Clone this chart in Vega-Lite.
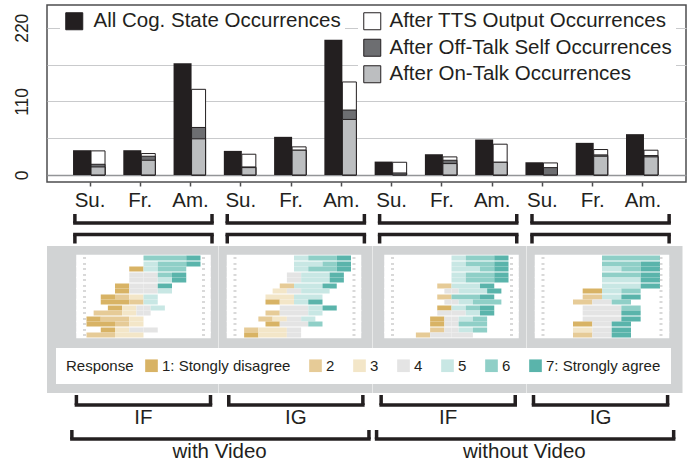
{
  "$schema": "https://vega.github.io/schema/vega-lite/v6.json",
  "background": "white",
  "padding": {"left": 12, "top": 4, "right": 0, "bottom": 0},
  "config": {"font": "Liberation Sans", "view": {"stroke": null}, "concat": {"spacing": 0}},
  "datasets": {
    "bars": [
      {"cat":"vIF-Su","s":"All Cog. State Occurrences","v":37},{"cat":"vIF-Su","s":"After TTS Output Occurrences","v":36},{"cat":"vIF-Su","s":"After Off-Talk Self Occurrences","v":16},{"cat":"vIF-Su","s":"After On-Talk Occurrences","v":12},
      {"cat":"vIF-Fr","s":"All Cog. State Occurrences","v":37},{"cat":"vIF-Fr","s":"After TTS Output Occurrences","v":32},{"cat":"vIF-Fr","s":"After Off-Talk Self Occurrences","v":28},{"cat":"vIF-Fr","s":"After On-Talk Occurrences","v":22},
      {"cat":"vIF-Am","s":"All Cog. State Occurrences","v":167},{"cat":"vIF-Am","s":"After TTS Output Occurrences","v":128},{"cat":"vIF-Am","s":"After Off-Talk Self Occurrences","v":71},{"cat":"vIF-Am","s":"After On-Talk Occurrences","v":54},
      {"cat":"vIG-Su","s":"All Cog. State Occurrences","v":36},{"cat":"vIG-Su","s":"After TTS Output Occurrences","v":31},{"cat":"vIG-Su","s":"After Off-Talk Self Occurrences","v":12},{"cat":"vIG-Su","s":"After On-Talk Occurrences","v":11},
      {"cat":"vIG-Fr","s":"All Cog. State Occurrences","v":57},{"cat":"vIG-Fr","s":"After TTS Output Occurrences","v":42},{"cat":"vIG-Fr","s":"After Off-Talk Self Occurrences","v":37},{"cat":"vIG-Fr","s":"After On-Talk Occurrences","v":37},
      {"cat":"vIG-Am","s":"All Cog. State Occurrences","v":202},{"cat":"vIG-Am","s":"After TTS Output Occurrences","v":139},{"cat":"vIG-Am","s":"After Off-Talk Self Occurrences","v":97},{"cat":"vIG-Am","s":"After On-Talk Occurrences","v":83},
      {"cat":"nIF-Su","s":"All Cog. State Occurrences","v":20},{"cat":"nIF-Su","s":"After TTS Output Occurrences","v":19},{"cat":"nIF-Su","s":"After Off-Talk Self Occurrences","v":3},
      {"cat":"nIF-Fr","s":"All Cog. State Occurrences","v":31},{"cat":"nIF-Fr","s":"After TTS Output Occurrences","v":27},{"cat":"nIF-Fr","s":"After Off-Talk Self Occurrences","v":22},{"cat":"nIF-Fr","s":"After On-Talk Occurrences","v":17},
      {"cat":"nIF-Am","s":"All Cog. State Occurrences","v":53},{"cat":"nIF-Am","s":"After TTS Output Occurrences","v":46},{"cat":"nIF-Am","s":"After Off-Talk Self Occurrences","v":19},{"cat":"nIF-Am","s":"After On-Talk Occurrences","v":19},
      {"cat":"nIG-Su","s":"All Cog. State Occurrences","v":19},{"cat":"nIG-Su","s":"After TTS Output Occurrences","v":18},{"cat":"nIG-Su","s":"After Off-Talk Self Occurrences","v":11},
      {"cat":"nIG-Fr","s":"All Cog. State Occurrences","v":48},{"cat":"nIG-Fr","s":"After TTS Output Occurrences","v":38},{"cat":"nIG-Fr","s":"After Off-Talk Self Occurrences","v":30},{"cat":"nIG-Fr","s":"After On-Talk Occurrences","v":28},
      {"cat":"nIG-Am","s":"All Cog. State Occurrences","v":61},{"cat":"nIG-Am","s":"After TTS Output Occurrences","v":37},{"cat":"nIG-Am","s":"After Off-Talk Self Occurrences","v":29},{"cat":"nIG-Am","s":"After On-Talk Occurrences","v":27}
    ],
    "likert": [
      {"p":"vIF","q":0,"c":1,"l":6,"v":3},{"p":"vIF","q":0,"c":1,"l":7,"v":1},
      {"p":"vIF","q":1,"c":0,"l":5,"v":1},{"p":"vIF","q":1,"c":0,"l":6,"v":2},{"p":"vIF","q":1,"c":0,"l":7,"v":1},
      {"p":"vIF","q":1,"c":1,"l":1,"v":-1},{"p":"vIF","q":1,"c":1,"l":5,"v":1},{"p":"vIF","q":1,"c":1,"l":6,"v":2},
      {"p":"vIF","q":2,"c":0,"l":4,"v":-1},{"p":"vIF","q":2,"c":0,"l":4,"v":1},{"p":"vIF","q":2,"c":0,"l":6,"v":1},{"p":"vIF","q":2,"c":0,"l":7,"v":1},
      {"p":"vIF","q":2,"c":1,"l":4,"v":-1},{"p":"vIF","q":2,"c":1,"l":4,"v":1},{"p":"vIF","q":2,"c":1,"l":5,"v":1},{"p":"vIF","q":2,"c":1,"l":7,"v":1},
      {"p":"vIF","q":3,"c":0,"l":1,"v":-1},{"p":"vIF","q":3,"c":0,"l":4,"v":-1},{"p":"vIF","q":3,"c":0,"l":4,"v":1},{"p":"vIF","q":3,"c":0,"l":7,"v":1},
      {"p":"vIF","q":3,"c":1,"l":1,"v":-1},{"p":"vIF","q":3,"c":1,"l":4,"v":-1},{"p":"vIF","q":3,"c":1,"l":4,"v":1},{"p":"vIF","q":3,"c":1,"l":5,"v":1},
      {"p":"vIF","q":4,"c":0,"l":1,"v":-1},{"p":"vIF","q":4,"c":0,"l":2,"v":-1},{"p":"vIF","q":4,"c":0,"l":3,"v":-1},{"p":"vIF","q":4,"c":0,"l":5,"v":1},
      {"p":"vIF","q":4,"c":1,"l":1,"v":-2},{"p":"vIF","q":4,"c":1,"l":2,"v":-1},{"p":"vIF","q":4,"c":1,"l":5,"v":1},
      {"p":"vIF","q":5,"c":0,"l":1,"v":-1},{"p":"vIF","q":5,"c":0,"l":3,"v":-1},{"p":"vIF","q":5,"c":0,"l":4,"v":-0.5},{"p":"vIF","q":5,"c":0,"l":4,"v":0.5},{"p":"vIF","q":5,"c":0,"l":5,"v":1},
      {"p":"vIF","q":5,"c":1,"l":2,"v":-2},{"p":"vIF","q":5,"c":1,"l":3,"v":-1},{"p":"vIF","q":5,"c":1,"l":4,"v":-0.5},{"p":"vIF","q":5,"c":1,"l":4,"v":0.5},
      {"p":"vIF","q":6,"c":0,"l":1,"v":-1},{"p":"vIF","q":6,"c":0,"l":2,"v":-2},{"p":"vIF","q":6,"c":0,"l":3,"v":-1},
      {"p":"vIF","q":6,"c":1,"l":1,"v":-2},{"p":"vIF","q":6,"c":1,"l":2,"v":-1},{"p":"vIF","q":6,"c":1,"l":3,"v":-1},
      {"p":"vIF","q":7,"c":0,"l":1,"v":-1},{"p":"vIF","q":7,"c":0,"l":3,"v":-1},{"p":"vIF","q":7,"c":0,"l":4,"v":-1},{"p":"vIF","q":7,"c":0,"l":4,"v":1},
      {"p":"vIF","q":7,"c":1,"l":2,"v":-2},{"p":"vIF","q":7,"c":1,"l":3,"v":-2},

      {"p":"vIG","q":0,"c":1,"l":5,"v":1},{"p":"vIG","q":0,"c":1,"l":6,"v":2},{"p":"vIG","q":0,"c":1,"l":7,"v":1},
      {"p":"vIG","q":1,"c":0,"l":5,"v":2},{"p":"vIG","q":1,"c":0,"l":6,"v":1},{"p":"vIG","q":1,"c":0,"l":7,"v":1},
      {"p":"vIG","q":1,"c":1,"l":5,"v":1},{"p":"vIG","q":1,"c":1,"l":6,"v":2},{"p":"vIG","q":1,"c":1,"l":7,"v":1},
      {"p":"vIG","q":2,"c":0,"l":4,"v":-0.5},{"p":"vIG","q":2,"c":0,"l":4,"v":0.5},{"p":"vIG","q":2,"c":0,"l":5,"v":2},{"p":"vIG","q":2,"c":0,"l":7,"v":1},
      {"p":"vIG","q":2,"c":1,"l":4,"v":-0.5},{"p":"vIG","q":2,"c":1,"l":4,"v":0.5},{"p":"vIG","q":2,"c":1,"l":5,"v":2},{"p":"vIG","q":2,"c":1,"l":7,"v":1},
      {"p":"vIG","q":3,"c":0,"l":2,"v":-1},{"p":"vIG","q":3,"c":0,"l":5,"v":2},{"p":"vIG","q":3,"c":0,"l":7,"v":1},
      {"p":"vIG","q":3,"c":1,"l":3,"v":-1},{"p":"vIG","q":3,"c":1,"l":4,"v":-0.5},{"p":"vIG","q":3,"c":1,"l":4,"v":0.5},{"p":"vIG","q":3,"c":1,"l":5,"v":2},
      {"p":"vIG","q":4,"c":0,"l":3,"v":-2},{"p":"vIG","q":4,"c":0,"l":5,"v":2},
      {"p":"vIG","q":4,"c":1,"l":1,"v":-1},{"p":"vIG","q":4,"c":1,"l":3,"v":-1},{"p":"vIG","q":4,"c":1,"l":5,"v":1},{"p":"vIG","q":4,"c":1,"l":7,"v":1},
      {"p":"vIG","q":5,"c":0,"l":4,"v":-1},{"p":"vIG","q":5,"c":0,"l":4,"v":1},{"p":"vIG","q":5,"c":0,"l":5,"v":1},{"p":"vIG","q":5,"c":0,"l":7,"v":1},
      {"p":"vIG","q":5,"c":1,"l":2,"v":-1},{"p":"vIG","q":5,"c":1,"l":4,"v":-1},{"p":"vIG","q":5,"c":1,"l":4,"v":1},{"p":"vIG","q":5,"c":1,"l":5,"v":1},
      {"p":"vIG","q":6,"c":0,"l":2,"v":-1},{"p":"vIG","q":6,"c":0,"l":3,"v":-1},{"p":"vIG","q":6,"c":0,"l":4,"v":-0.5},{"p":"vIG","q":6,"c":0,"l":4,"v":0.5},{"p":"vIG","q":6,"c":0,"l":5,"v":1},
      {"p":"vIG","q":6,"c":1,"l":1,"v":-1},{"p":"vIG","q":6,"c":1,"l":4,"v":-1},{"p":"vIG","q":6,"c":1,"l":4,"v":1},{"p":"vIG","q":6,"c":1,"l":6,"v":1},
      {"p":"vIG","q":7,"c":0,"l":2,"v":-1},{"p":"vIG","q":7,"c":0,"l":3,"v":-2},{"p":"vIG","q":7,"c":0,"l":4,"v":-0.5},{"p":"vIG","q":7,"c":0,"l":4,"v":0.5},
      {"p":"vIG","q":7,"c":1,"l":1,"v":-1},{"p":"vIG","q":7,"c":1,"l":3,"v":-2},{"p":"vIG","q":7,"c":1,"l":4,"v":-0.5},{"p":"vIG","q":7,"c":1,"l":4,"v":0.5},

      {"p":"nIF","q":0,"c":1,"l":5,"v":1},{"p":"nIF","q":0,"c":1,"l":6,"v":2},{"p":"nIF","q":0,"c":1,"l":7,"v":1},
      {"p":"nIF","q":1,"c":0,"l":5,"v":1},{"p":"nIF","q":1,"c":0,"l":6,"v":2},{"p":"nIF","q":1,"c":0,"l":7,"v":1},
      {"p":"nIF","q":1,"c":1,"l":5,"v":2},{"p":"nIF","q":1,"c":1,"l":6,"v":1},{"p":"nIF","q":1,"c":1,"l":7,"v":1},
      {"p":"nIF","q":2,"c":0,"l":5,"v":1},{"p":"nIF","q":2,"c":0,"l":6,"v":2},{"p":"nIF","q":2,"c":0,"l":7,"v":1},
      {"p":"nIF","q":2,"c":1,"l":5,"v":1},{"p":"nIF","q":2,"c":1,"l":6,"v":2},{"p":"nIF","q":2,"c":1,"l":7,"v":1},
      {"p":"nIF","q":3,"c":0,"l":2,"v":-1},{"p":"nIF","q":3,"c":0,"l":5,"v":2},{"p":"nIF","q":3,"c":0,"l":7,"v":1},
      {"p":"nIF","q":3,"c":1,"l":4,"v":-0.5},{"p":"nIF","q":3,"c":1,"l":4,"v":0.5},{"p":"nIF","q":3,"c":1,"l":5,"v":2},{"p":"nIF","q":3,"c":1,"l":7,"v":1},
      {"p":"nIF","q":4,"c":0,"l":2,"v":-1},{"p":"nIF","q":4,"c":0,"l":6,"v":2},{"p":"nIF","q":4,"c":0,"l":7,"v":1},
      {"p":"nIF","q":4,"c":1,"l":4,"v":-0.5},{"p":"nIF","q":4,"c":1,"l":4,"v":0.5},{"p":"nIF","q":4,"c":1,"l":5,"v":1},{"p":"nIF","q":4,"c":1,"l":6,"v":2},
      {"p":"nIF","q":5,"c":0,"l":1,"v":-1},{"p":"nIF","q":5,"c":0,"l":5,"v":1},{"p":"nIF","q":5,"c":0,"l":6,"v":1},{"p":"nIF","q":5,"c":0,"l":7,"v":1},
      {"p":"nIF","q":5,"c":1,"l":4,"v":-1},{"p":"nIF","q":5,"c":1,"l":4,"v":1},{"p":"nIF","q":5,"c":1,"l":5,"v":1},{"p":"nIF","q":5,"c":1,"l":7,"v":1},
      {"p":"nIF","q":6,"c":0,"l":1,"v":-1},{"p":"nIF","q":6,"c":0,"l":4,"v":-0.5},{"p":"nIF","q":6,"c":0,"l":4,"v":0.5},{"p":"nIF","q":6,"c":0,"l":5,"v":1},{"p":"nIF","q":6,"c":0,"l":6,"v":1},
      {"p":"nIF","q":6,"c":1,"l":1,"v":-1},{"p":"nIF","q":6,"c":1,"l":4,"v":-0.5},{"p":"nIF","q":6,"c":1,"l":4,"v":0.5},{"p":"nIF","q":6,"c":1,"l":6,"v":2},
      {"p":"nIF","q":7,"c":0,"l":2,"v":-1},{"p":"nIF","q":7,"c":0,"l":4,"v":-0.5},{"p":"nIF","q":7,"c":0,"l":4,"v":0.5},{"p":"nIF","q":7,"c":0,"l":5,"v":1},{"p":"nIF","q":7,"c":0,"l":6,"v":1},
      {"p":"nIF","q":7,"c":1,"l":2,"v":-1},{"p":"nIF","q":7,"c":1,"l":4,"v":-1.5},{"p":"nIF","q":7,"c":1,"l":4,"v":1.5},

      {"p":"nIG","q":0,"c":1,"l":6,"v":3},
      {"p":"nIG","q":1,"c":0,"l":6,"v":2},{"p":"nIG","q":1,"c":0,"l":7,"v":1},
      {"p":"nIG","q":1,"c":1,"l":5,"v":1},{"p":"nIG","q":1,"c":1,"l":6,"v":1},{"p":"nIG","q":1,"c":1,"l":7,"v":1},
      {"p":"nIG","q":2,"c":0,"l":6,"v":2},{"p":"nIG","q":2,"c":0,"l":7,"v":1},
      {"p":"nIG","q":2,"c":1,"l":5,"v":2},{"p":"nIG","q":2,"c":1,"l":7,"v":1},
      {"p":"nIG","q":3,"c":0,"l":5,"v":2},{"p":"nIG","q":3,"c":0,"l":7,"v":1},
      {"p":"nIG","q":3,"c":1,"l":1,"v":-1},{"p":"nIG","q":3,"c":1,"l":5,"v":1},{"p":"nIG","q":3,"c":1,"l":6,"v":1},
      {"p":"nIG","q":4,"c":0,"l":2,"v":-1},{"p":"nIG","q":4,"c":0,"l":5,"v":1},{"p":"nIG","q":4,"c":0,"l":7,"v":1},
      {"p":"nIG","q":4,"c":1,"l":2,"v":-1},{"p":"nIG","q":4,"c":1,"l":4,"v":-0.5},{"p":"nIG","q":4,"c":1,"l":4,"v":0.5},{"p":"nIG","q":4,"c":1,"l":6,"v":1},
      {"p":"nIG","q":5,"c":0,"l":4,"v":-1},{"p":"nIG","q":5,"c":0,"l":4,"v":1},{"p":"nIG","q":5,"c":0,"l":6,"v":1},
      {"p":"nIG","q":5,"c":1,"l":4,"v":-1},{"p":"nIG","q":5,"c":1,"l":4,"v":1},{"p":"nIG","q":5,"c":1,"l":7,"v":1},
      {"p":"nIG","q":6,"c":0,"l":4,"v":-1},{"p":"nIG","q":6,"c":0,"l":4,"v":1},{"p":"nIG","q":6,"c":0,"l":7,"v":1},
      {"p":"nIG","q":6,"c":1,"l":1,"v":-1},{"p":"nIG","q":6,"c":1,"l":4,"v":-0.5},{"p":"nIG","q":6,"c":1,"l":4,"v":0.5},{"p":"nIG","q":6,"c":1,"l":7,"v":1},
      {"p":"nIG","q":7,"c":0,"l":3,"v":-1},{"p":"nIG","q":7,"c":0,"l":4,"v":-0.5},{"p":"nIG","q":7,"c":0,"l":4,"v":0.5},{"p":"nIG","q":7,"c":0,"l":7,"v":1},
      {"p":"nIG","q":7,"c":1,"l":2,"v":-1},{"p":"nIG","q":7,"c":1,"l":4,"v":-0.5},{"p":"nIG","q":7,"c":1,"l":4,"v":0.5},{"p":"nIG","q":7,"c":1,"l":7,"v":1}
    ],
    "groups": [{"g":"vIF"},{"g":"vIG"},{"g":"nIF"},{"g":"nIG"}],
    "video": [{"vid":"with Video"},{"vid":"without Video"}]
  },
  "resolve": {"scale": {"color": "independent", "fill": "independent"}},
  "spacing": 0,
  "vconcat": [
    {
      "width": 639, "height": 177,
      "view": {"stroke": "#4d4d4f", "strokeWidth": 1.5},
      "data": {"name": "bars"},
      "layer": [
        {
          "transform": [{"filter": "datum.s === 'All Cog. State Occurrences'"}],
          "mark": {"type": "bar", "width": 18},
          "encoding": {
            "x": {"field": "cat", "type": "nominal", "sort": null, "title": null,
              "scale": {"domain": ["vIF-Su","vIF-Fr","vIF-Am","vIG-Su","vIG-Fr","vIG-Am","nIF-Su","nIF-Fr","nIF-Am","nIG-Su","nIG-Fr","nIG-Am"], "paddingInner": 0, "paddingOuter": 0.356},
              "axis": {"labelExpr": "slice(datum.value, -2) + '.'", "tickSize": 4, "tickColor": "#4d4d4f", "tickWidth": 1.5, "domain": false, "labelFontSize": 20.5, "labelColor": "#231f20", "labelPadding": 4, "labelAngle": 0}},
            "xOffset": {"datum": "All", "scale": {"domain": ["All", "After"], "paddingInner": 0, "paddingOuter": 0.571}},
            "y": {"field": "v", "type": "quantitative", "stack": null, "title": null,
              "scale": {"domain": [-10.5, 254], "nice": false},
              "axis": {"values": [0, 55, 110, 165, 220], "labelExpr": "datum.value % 110 === 0 ? datum.label : ''", "ticks": false, "domain": false, "grid": true,
                "gridColor": {"condition": {"test": "datum.value === 0", "value": "#939598"}, "value": "#c9cacc"},
                "gridWidth": {"condition": {"test": "datum.value === 0", "value": 1.5}, "value": 1},
                "labelAngle": -90, "labelAlign": "center", "labelBaseline": "bottom", "labelFontSize": 17.5, "labelColor": "#231f20", "labelPadding": 16}},
            "fill": {"field": "s", "type": "nominal",
              "scale": {"domain": ["All Cog. State Occurrences"], "range": ["#231f20"]},
              "legend": {"orient": "none", "legendX": 13, "legendY": 2, "title": null, "symbolType": "square", "symbolSize": 289, "symbolStrokeColor": "#231f20", "symbolStrokeWidth": 1, "labelFontSize": 20.5, "labelColor": "#231f20", "labelOffset": 9, "labelLimit": 400, "fillColor": "white", "padding": 4}}
          }
        },
        {
          "transform": [{"filter": "datum.s !== 'All Cog. State Occurrences'"}],
          "mark": {"type": "bar", "width": 14, "stroke": "#231f20", "strokeWidth": 1},
          "encoding": {
            "x": {"field": "cat", "type": "nominal", "sort": null, "title": null},
            "xOffset": {"datum": "After"},
            "y": {"field": "v", "type": "quantitative", "stack": null, "title": null},
            "fill": {"field": "s", "type": "nominal",
              "scale": {"domain": ["After TTS Output Occurrences", "After Off-Talk Self Occurrences", "After On-Talk Occurrences"], "range": ["#ffffff", "#6d6e71", "#bcbec0"]},
              "legend": {"orient": "none", "legendX": 311, "legendY": 2, "title": null, "symbolType": "square", "symbolSize": 289, "symbolStrokeColor": "#231f20", "symbolStrokeWidth": 1, "labelFontSize": 20.5, "labelColor": "#231f20", "labelOffset": 7, "labelLimit": 400, "rowPadding": 4.5, "fillColor": "white", "padding": 4}}
          }
        }
      ],
      "resolve": {"scale": {"fill": "independent"}}
    },
    {
      "spacing": 5.5,
      "vconcat": [
        {
          "width": 650, "height": 9,
          "data": {"name": "groups"},
          "layer": [
            {"mark": {"type": "rule", "color": "#231f20", "strokeWidth": 3.5},
             "encoding": {"x": {"field": "g", "type": "nominal", "sort": null, "title": null, "bandPosition": 0.05, "scale": {"domain": ["vIF","vIG","nIF","nIG"], "paddingInner": 0, "paddingOuter": 0.133}, "axis": null}}},
            {"mark": {"type": "rule", "color": "#231f20", "strokeWidth": 3.5},
             "encoding": {"x": {"field": "g", "type": "nominal", "title": null, "bandPosition": 0.95}}},
            {"mark": {"type": "rule", "color": "#231f20", "strokeWidth": 3.5, "strokeCap": "square"},
             "encoding": {"x": {"field": "g", "type": "nominal", "title": null, "bandPosition": 0.05}, "x2": {"field": "g", "bandPosition": 0.95}, "y": {"value": "height"}}}
          ]
        },
        {
          "width": 650, "height": 9,
          "data": {"name": "groups"},
          "layer": [
            {"mark": {"type": "rule", "color": "#231f20", "strokeWidth": 3.5},
             "encoding": {"x": {"field": "g", "type": "nominal", "sort": null, "title": null, "bandPosition": 0.05, "scale": {"domain": ["vIF","vIG","nIF","nIG"], "paddingInner": 0, "paddingOuter": 0.133}, "axis": null}}},
            {"mark": {"type": "rule", "color": "#231f20", "strokeWidth": 3.5},
             "encoding": {"x": {"field": "g", "type": "nominal", "title": null, "bandPosition": 0.95}}},
            {"mark": {"type": "rule", "color": "#231f20", "strokeWidth": 3.5, "strokeCap": "square"},
             "encoding": {"x": {"field": "g", "type": "nominal", "title": null, "bandPosition": 0.05}, "x2": {"field": "g", "bandPosition": 0.95}, "y": {"value": 0}}}
          ]
        }
      ]
    },
    {
      "hconcat": [
        {
          "width": 171.5, "height": 147,
          "view": {"fill": "#d1d3d4", "stroke": null},
          "data": {"name": "likert"},
          "transform": [{"filter": "datum.p === 'vIF'"}],
          "layer": [
            {"transform": [{"aggregate": [{"op": "count", "as": "n"}], "groupby": ["q", "c"]}],
             "mark": {"type": "bar", "fill": "white", "stroke": "white", "strokeWidth": 1.5},
             "encoding": {
               "x": {"datum": -4.667, "type": "quantitative", "scale": {"domain": [-6.772, 5.263], "nice": false, "zero": false}, "axis": null},
               "x2": {"datum": 4.667},
               "y": {"field": "q", "type": "ordinal", "scale": {"range": [4, 92], "paddingInner": 0.09, "paddingOuter": 0.045}, "axis": null},
               "yOffset": {"field": "c", "type": "ordinal", "scale": {"domain": [0, 1], "paddingInner": 0, "paddingOuter": 0}}}},
            {"transform": [{"calculate": "abs(datum.l - 4)", "as": "d"}],
             "mark": {"type": "bar"},
             "encoding": {
               "x": {"field": "v", "type": "quantitative", "stack": "zero", "axis": null},
               "y": {"field": "q", "type": "ordinal", "axis": null},
               "yOffset": {"field": "c", "type": "ordinal"},
               "order": {"field": "d", "type": "quantitative"},
               "color": {"field": "l", "type": "ordinal", "scale": {"domain": [1,2,3,4,5,6,7], "range": ["#d8b365","#e6cb97","#f3e6c8","#e4e4e4","#c8e7e4","#8fcfc7","#5ab4ab"]},
                 "legend": {"orient": "none", "legendX": 9, "legendY": 102, "direction": "horizontal", "title": "Response", "titleOrient": "left", "titleFontSize": 15, "titleFontWeight": "normal", "titleColor": "#231f20", "titlePadding": 10, "labelFontSize": 15, "labelColor": "#231f20", "symbolType": "square", "symbolSize": 160, "symbolStrokeWidth": 0, "fillColor": "white", "padding": 10, "columnPadding": 17, "labelOffset": 3, "labelLimit": 300,
                   "labelExpr": "datum.value == 1 ? '1: Stongly disagree' : (datum.value == 7 ? '7: Strongly agree' : datum.label)"}}}},
            {"transform": [{"aggregate": [{"op": "count", "as": "n"}], "groupby": ["q"]}],
             "mark": {"type": "rule", "color": "#58595b", "strokeWidth": 1},
             "encoding": {"x": {"datum": 0, "type": "quantitative"}, "y": {"field": "q", "type": "ordinal"}}},
            {"transform": [{"aggregate": [{"op": "count", "as": "n"}], "groupby": ["q", "c"]}],
             "mark": {"type": "rule", "color": "#b3b3b3", "strokeWidth": 1},
             "encoding": {"x": {"datum": -4.246, "type": "quantitative"}, "x2": {"datum": -4.035}, "y": {"field": "q", "type": "ordinal"}, "yOffset": {"field": "c", "type": "ordinal"}}},
            {"transform": [{"aggregate": [{"op": "count", "as": "n"}], "groupby": ["q", "c"]}],
             "mark": {"type": "rule", "color": "#b3b3b3", "strokeWidth": 1},
             "encoding": {"x": {"datum": 4.105, "type": "quantitative"}, "x2": {"datum": 4.316}, "y": {"field": "q", "type": "ordinal"}, "yOffset": {"field": "c", "type": "ordinal"}}}
          ]
        },
        {
          "width": 153.5, "height": 147,
          "view": {"fill": "#d1d3d4", "stroke": null},
          "data": {"name": "likert"},
          "transform": [{"filter": "datum.p === 'vIG'"}],
          "layer": [
            {"transform": [{"aggregate": [{"op": "count", "as": "n"}], "groupby": ["q", "c"]}],
             "mark": {"type": "bar", "fill": "white", "stroke": "white", "strokeWidth": 1.5},
             "encoding": {
               "x": {"datum": -4.667, "type": "quantitative", "scale": {"domain": [-5.263, 5.509], "nice": false, "zero": false}, "axis": null},
               "x2": {"datum": 4.667},
               "y": {"field": "q", "type": "ordinal", "scale": {"range": [4, 92], "paddingInner": 0.09, "paddingOuter": 0.045}, "axis": null},
               "yOffset": {"field": "c", "type": "ordinal", "scale": {"domain": [0, 1], "paddingInner": 0, "paddingOuter": 0}}}},
            {"transform": [{"calculate": "abs(datum.l - 4)", "as": "d"}],
             "mark": {"type": "bar"},
             "encoding": {
               "x": {"field": "v", "type": "quantitative", "stack": "zero", "axis": null},
               "y": {"field": "q", "type": "ordinal", "axis": null},
               "yOffset": {"field": "c", "type": "ordinal"},
               "order": {"field": "d", "type": "quantitative"},
               "color": {"field": "l", "type": "ordinal", "scale": {"domain": [1,2,3,4,5,6,7], "range": ["#d8b365","#e6cb97","#f3e6c8","#e4e4e4","#c8e7e4","#8fcfc7","#5ab4ab"]},
                 "legend": {"orient": "none", "legendX": 9, "legendY": 102, "direction": "horizontal", "title": "Response", "titleOrient": "left", "titleFontSize": 15, "titleFontWeight": "normal", "titleColor": "#231f20", "titlePadding": 10, "labelFontSize": 15, "labelColor": "#231f20", "symbolType": "square", "symbolSize": 160, "symbolStrokeWidth": 0, "fillColor": "white", "padding": 10, "columnPadding": 17, "labelOffset": 3, "labelLimit": 300,
                   "labelExpr": "datum.value == 1 ? '1: Stongly disagree' : (datum.value == 7 ? '7: Strongly agree' : datum.label)"}}}},
            {"transform": [{"aggregate": [{"op": "count", "as": "n"}], "groupby": ["q"]}],
             "mark": {"type": "rule", "color": "#58595b", "strokeWidth": 1},
             "encoding": {"x": {"datum": 0, "type": "quantitative"}, "y": {"field": "q", "type": "ordinal"}}},
            {"transform": [{"aggregate": [{"op": "count", "as": "n"}], "groupby": ["q", "c"]}],
             "mark": {"type": "rule", "color": "#b3b3b3", "strokeWidth": 1},
             "encoding": {"x": {"datum": -4.246, "type": "quantitative"}, "x2": {"datum": -4.035}, "y": {"field": "q", "type": "ordinal"}, "yOffset": {"field": "c", "type": "ordinal"}}},
            {"transform": [{"aggregate": [{"op": "count", "as": "n"}], "groupby": ["q", "c"]}],
             "mark": {"type": "rule", "color": "#b3b3b3", "strokeWidth": 1},
             "encoding": {"x": {"datum": 4.105, "type": "quantitative"}, "x2": {"datum": 4.316}, "y": {"field": "q", "type": "ordinal"}, "yOffset": {"field": "c", "type": "ordinal"}}}
          ]
        },
        {
          "width": 153.5, "height": 147,
          "view": {"fill": "#d1d3d4", "stroke": null},
          "data": {"name": "likert"},
          "transform": [{"filter": "datum.p === 'nIF'"}],
          "layer": [
            {"transform": [{"aggregate": [{"op": "count", "as": "n"}], "groupby": ["q", "c"]}],
             "mark": {"type": "bar", "fill": "white", "stroke": "white", "strokeWidth": 1.5},
             "encoding": {
               "x": {"datum": -4.667, "type": "quantitative", "scale": {"domain": [-5.509, 5.263], "nice": false, "zero": false}, "axis": null},
               "x2": {"datum": 4.667},
               "y": {"field": "q", "type": "ordinal", "scale": {"range": [4, 92], "paddingInner": 0.09, "paddingOuter": 0.045}, "axis": null},
               "yOffset": {"field": "c", "type": "ordinal", "scale": {"domain": [0, 1], "paddingInner": 0, "paddingOuter": 0}}}},
            {"transform": [{"calculate": "abs(datum.l - 4)", "as": "d"}],
             "mark": {"type": "bar"},
             "encoding": {
               "x": {"field": "v", "type": "quantitative", "stack": "zero", "axis": null},
               "y": {"field": "q", "type": "ordinal", "axis": null},
               "yOffset": {"field": "c", "type": "ordinal"},
               "order": {"field": "d", "type": "quantitative"},
               "color": {"field": "l", "type": "ordinal", "scale": {"domain": [1,2,3,4,5,6,7], "range": ["#d8b365","#e6cb97","#f3e6c8","#e4e4e4","#c8e7e4","#8fcfc7","#5ab4ab"]},
                 "legend": {"orient": "none", "legendX": 9, "legendY": 102, "direction": "horizontal", "title": "Response", "titleOrient": "left", "titleFontSize": 15, "titleFontWeight": "normal", "titleColor": "#231f20", "titlePadding": 10, "labelFontSize": 15, "labelColor": "#231f20", "symbolType": "square", "symbolSize": 160, "symbolStrokeWidth": 0, "fillColor": "white", "padding": 10, "columnPadding": 17, "labelOffset": 3, "labelLimit": 300,
                   "labelExpr": "datum.value == 1 ? '1: Stongly disagree' : (datum.value == 7 ? '7: Strongly agree' : datum.label)"}}}},
            {"transform": [{"aggregate": [{"op": "count", "as": "n"}], "groupby": ["q"]}],
             "mark": {"type": "rule", "color": "#58595b", "strokeWidth": 1},
             "encoding": {"x": {"datum": 0, "type": "quantitative"}, "y": {"field": "q", "type": "ordinal"}}},
            {"transform": [{"aggregate": [{"op": "count", "as": "n"}], "groupby": ["q", "c"]}],
             "mark": {"type": "rule", "color": "#b3b3b3", "strokeWidth": 1},
             "encoding": {"x": {"datum": -4.246, "type": "quantitative"}, "x2": {"datum": -4.035}, "y": {"field": "q", "type": "ordinal"}, "yOffset": {"field": "c", "type": "ordinal"}}},
            {"transform": [{"aggregate": [{"op": "count", "as": "n"}], "groupby": ["q", "c"]}],
             "mark": {"type": "rule", "color": "#b3b3b3", "strokeWidth": 1},
             "encoding": {"x": {"datum": 4.105, "type": "quantitative"}, "x2": {"datum": 4.316}, "y": {"field": "q", "type": "ordinal"}, "yOffset": {"field": "c", "type": "ordinal"}}}
          ]
        },
        {
          "width": 155.5, "height": 147,
          "view": {"fill": "#d1d3d4", "stroke": null},
          "data": {"name": "likert"},
          "transform": [{"filter": "datum.p === 'nIG'"}],
          "layer": [
            {"transform": [{"aggregate": [{"op": "count", "as": "n"}], "groupby": ["q", "c"]}],
             "mark": {"type": "bar", "fill": "white", "stroke": "white", "strokeWidth": 1.5},
             "encoding": {
               "x": {"datum": -3.44, "type": "quantitative", "scale": {"domain": [-3.88, 4.164], "nice": false, "zero": false}, "axis": null},
               "x2": {"datum": 3.44},
               "y": {"field": "q", "type": "ordinal", "scale": {"range": [4, 92], "paddingInner": 0.09, "paddingOuter": 0.045}, "axis": null},
               "yOffset": {"field": "c", "type": "ordinal", "scale": {"domain": [0, 1], "paddingInner": 0, "paddingOuter": 0}}}},
            {"transform": [{"calculate": "abs(datum.l - 4)", "as": "d"}],
             "mark": {"type": "bar"},
             "encoding": {
               "x": {"field": "v", "type": "quantitative", "stack": "zero", "axis": null},
               "y": {"field": "q", "type": "ordinal", "axis": null},
               "yOffset": {"field": "c", "type": "ordinal"},
               "order": {"field": "d", "type": "quantitative"},
               "color": {"field": "l", "type": "ordinal", "scale": {"domain": [1,2,3,4,5,6,7], "range": ["#d8b365","#e6cb97","#f3e6c8","#e4e4e4","#c8e7e4","#8fcfc7","#5ab4ab"]},
                 "legend": {"orient": "none", "legendX": 9, "legendY": 102, "direction": "horizontal", "title": "Response", "titleOrient": "left", "titleFontSize": 15, "titleFontWeight": "normal", "titleColor": "#231f20", "titlePadding": 10, "labelFontSize": 15, "labelColor": "#231f20", "symbolType": "square", "symbolSize": 160, "symbolStrokeWidth": 0, "fillColor": "white", "padding": 10, "columnPadding": 17, "labelOffset": 3, "labelLimit": 300,
                   "labelExpr": "datum.value == 1 ? '1: Stongly disagree' : (datum.value == 7 ? '7: Strongly agree' : datum.label)"}}}},
            {"transform": [{"aggregate": [{"op": "count", "as": "n"}], "groupby": ["q"]}],
             "mark": {"type": "rule", "color": "#58595b", "strokeWidth": 1},
             "encoding": {"x": {"datum": 0, "type": "quantitative"}, "y": {"field": "q", "type": "ordinal"}}},
            {"transform": [{"aggregate": [{"op": "count", "as": "n"}], "groupby": ["q", "c"]}],
             "mark": {"type": "rule", "color": "#b3b3b3", "strokeWidth": 1},
             "encoding": {"x": {"datum": -3.13, "type": "quantitative"}, "x2": {"datum": -2.974}, "y": {"field": "q", "type": "ordinal"}, "yOffset": {"field": "c", "type": "ordinal"}}},
            {"transform": [{"aggregate": [{"op": "count", "as": "n"}], "groupby": ["q", "c"]}],
             "mark": {"type": "rule", "color": "#b3b3b3", "strokeWidth": 1},
             "encoding": {"x": {"datum": 2.974, "type": "quantitative"}, "x2": {"datum": 3.13}, "y": {"field": "q", "type": "ordinal"}, "yOffset": {"field": "c", "type": "ordinal"}}}
          ]
        }
      ]
    },
    {
      "width": 650, "height": 10,
      "data": {"name": "groups"},
      "layer": [
        {"mark": {"type": "rule", "color": "#231f20", "strokeWidth": 3.5},
         "encoding": {"x": {"field": "g", "type": "nominal", "sort": null, "title": null, "bandPosition": 0.06,
           "scale": {"domain": ["vIF","vIG","nIF","nIG"], "paddingInner": 0, "paddingOuter": 0.133},
           "axis": {"ticks": false, "domain": false, "bandPosition": 0.5, "labelExpr": "indexof(datum.value, 'IF') >= 0 ? 'IF' : 'IG'", "labelFontSize": 20.5, "labelColor": "#231f20", "labelPadding": 2, "labelAngle": 0}}}},
        {"mark": {"type": "rule", "color": "#231f20", "strokeWidth": 3.5},
         "encoding": {"x": {"field": "g", "type": "nominal", "title": null, "bandPosition": 0.94}}},
        {"mark": {"type": "rule", "color": "#231f20", "strokeWidth": 3.5, "strokeCap": "square"},
         "encoding": {"x": {"field": "g", "type": "nominal", "title": null, "bandPosition": 0.06}, "x2": {"field": "g", "bandPosition": 0.94}, "y": {"value": "height"}}}
      ]
    },
    {
      "width": 650, "height": 9,
      "data": {"name": "video"},
      "layer": [
        {"mark": {"type": "rule", "color": "#231f20", "strokeWidth": 3.5},
         "encoding": {"x": {"field": "vid", "type": "nominal", "sort": null, "title": null, "bandPosition": 0.015,
           "scale": {"domain": ["with Video", "without Video"], "paddingInner": 0, "paddingOuter": 0.0666},
           "axis": {"ticks": false, "domain": false, "bandPosition": 0.5, "labelFontSize": 20.5, "labelColor": "#231f20", "labelPadding": 2, "labelAngle": 0}}}},
        {"mark": {"type": "rule", "color": "#231f20", "strokeWidth": 3.5},
         "encoding": {"x": {"field": "vid", "type": "nominal", "title": null, "bandPosition": 0.99}}},
        {"mark": {"type": "rule", "color": "#231f20", "strokeWidth": 3.5, "strokeCap": "square"},
         "encoding": {"x": {"field": "vid", "type": "nominal", "title": null, "bandPosition": 0.015}, "x2": {"field": "vid", "bandPosition": 0.99}, "y": {"value": "height"}}}
      ]
    }
  ]
}
